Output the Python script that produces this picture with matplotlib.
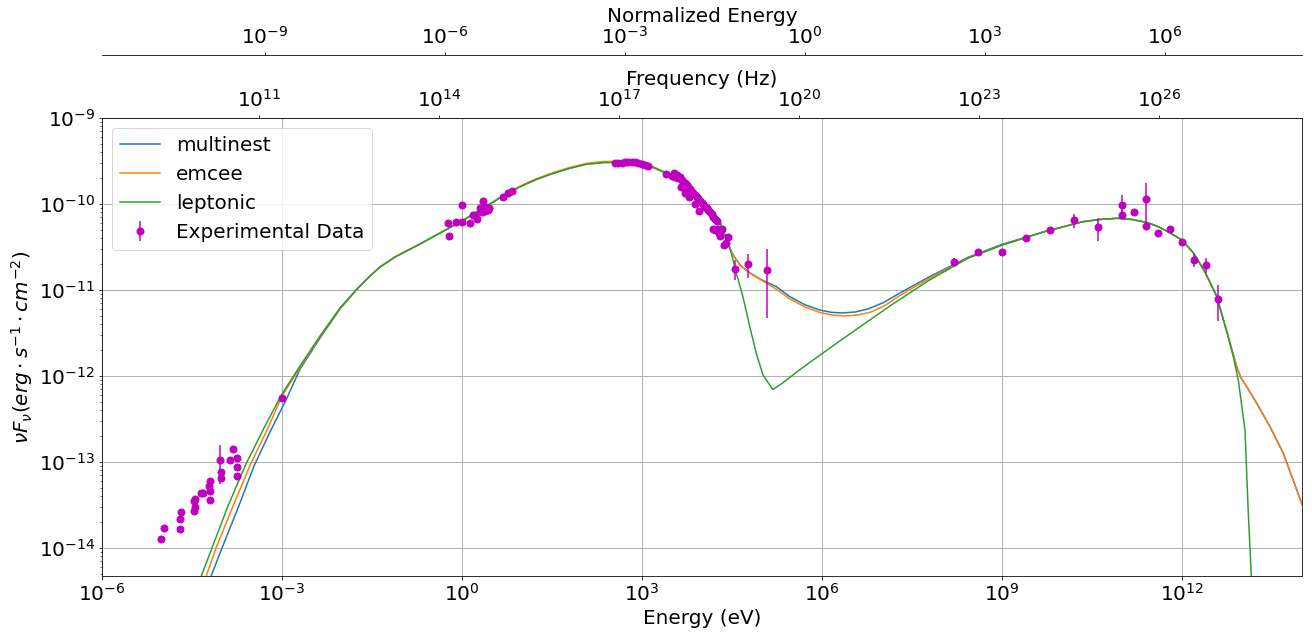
import numpy as np
import matplotlib
matplotlib.use("Agg")
import matplotlib.pyplot as plt

# ---------------- data (log10 values) ----------------
# Leptonic model (green)
lep_logE = [-4.383, -4.167, -3.90, -3.60, -3.30, -3.0, -2.70, -2.367, -2.033, -1.75,
            -1.533, -1.367, -1.117, -0.70, 0.0, 0.683, 0.967, 1.245, 1.522, 1.80, 2.078,
            2.355, 2.633, 2.912, 3.188, 3.467, 3.745, 4.022, 4.30, 4.40, 4.483,
            4.567, 4.683, 4.817, 4.917, 5.017, 5.178, 5.338, 5.625, 6.008, 6.517,
            7.157, 7.793, 8.433, 9.005, 9.707, 10.345, 10.633, 10.917, 11.167, 11.430,
            11.633, 11.812, 12.0, 12.195, 12.383, 12.577, 12.767, 12.855, 12.938, 13.05,
            13.105, 13.175]
lep_logF = [-14.395, -14.0, -13.512, -13.023, -12.605, -12.209, -11.884, -11.535, -11.209, -10.988,
            -10.837, -10.733, -10.616, -10.465, -10.198, -9.907, -9.799, -9.713, -9.643, -9.585, -9.538,
            -9.520, -9.515, -9.531, -9.578, -9.663, -9.779, -9.953, -10.215, -10.395, -10.558,
            -10.791, -11.081, -11.488, -11.767, -11.988, -12.157, -12.085, -11.930, -11.736, -11.485,
            -11.174, -10.884, -10.631, -10.477, -10.322, -10.206, -10.180, -10.166, -10.180, -10.217,
            -10.273, -10.341, -10.419, -10.573, -10.791, -11.07, -11.535, -11.776, -12.047, -12.628,
            -13.597, -14.605]

# Multinest model (blue)
mn_logE = [-4.233, -4.0, -3.733, -3.467, -3.2, -2.933, -2.70, -2.367, -2.033, -1.75,
           -1.533, -1.367, -1.117, -0.70, 0.0, 0.683, 0.967, 1.245, 1.522, 1.80, 2.078,
           2.355, 2.633, 2.912, 3.188, 3.467, 3.745, 4.022, 4.30, 4.40, 4.50,
           4.633, 4.80, 5.0, 5.242, 5.467, 5.717, 5.967, 6.15, 6.333, 6.55, 6.767, 7.033,
           7.283, 7.793, 8.433, 9.005, 9.707, 10.345, 10.633, 10.917, 11.167, 11.430,
           11.633, 11.812, 12.0, 12.195, 12.383, 12.577, 12.767, 12.912, 12.983, 13.078,
           13.245, 13.467, 13.688, 13.995, 14.133]
mn_logF = [-14.419, -14.0, -13.535, -13.047, -12.651, -12.279, -11.92, -11.56, -11.22, -10.99,
           -10.837, -10.733, -10.616, -10.465, -10.198, -9.907, -9.799, -9.713, -9.643, -9.583, -9.534,
           -9.515, -9.510, -9.524, -9.570, -9.656, -9.775, -9.950, -10.21, -10.39, -10.57,
           -10.709, -10.802, -10.884, -10.962, -11.079, -11.172, -11.234, -11.259, -11.267, -11.256, -11.221, -11.144,
           -11.041, -10.845, -10.620, -10.468, -10.322, -10.206, -10.180, -10.166, -10.180, -10.217,
           -10.273, -10.341, -10.419, -10.573, -10.791, -11.07, -11.535, -11.892, -12.023, -12.124,
           -12.317, -12.590, -12.899, -13.480, -13.709]

# emcee model (orange)
em_logE = [-4.30, -4.10, -3.82, -3.53, -3.25, -3.0, -2.70, -2.367, -2.033, -1.75,
           -1.533, -1.367, -1.117, -0.70, 0.0, 0.683, 0.967, 1.245, 1.522, 1.80, 2.078,
           2.355, 2.633, 2.912, 3.188, 3.467, 3.745, 4.022, 4.30, 4.40, 4.50,
           4.633, 4.80, 5.0, 5.242, 5.467, 5.717, 5.967, 6.167, 6.383, 6.60, 6.817, 7.05,
           7.283, 7.793, 8.433, 9.005, 9.707, 10.345, 10.633, 10.917, 11.167, 11.430,
           11.633, 11.812, 12.0, 12.195, 12.383, 12.577, 12.767, 12.912, 12.983, 13.078,
           13.245, 13.467, 13.688, 13.995, 14.133]
em_logF = [-14.40, -14.0, -13.52, -13.035, -12.63, -12.233, -11.90, -11.545, -11.213, -10.99,
           -10.837, -10.733, -10.616, -10.465, -10.198, -9.903, -9.793, -9.705, -9.634, -9.574, -9.527,
           -9.506, -9.503, -9.518, -9.570, -9.658, -9.777, -9.952, -10.212, -10.392, -10.575,
           -10.712, -10.805, -10.89, -10.992, -11.105, -11.198, -11.262, -11.291, -11.302, -11.291, -11.256, -11.180,
           -11.070, -10.864, -10.628, -10.477, -10.322, -10.206, -10.180, -10.166, -10.180, -10.217,
           -10.273, -10.341, -10.419, -10.573, -10.791, -11.07, -11.535, -11.892, -12.023, -12.124,
           -12.317, -12.590, -12.899, -13.480, -13.709]

# Experimental data
radio_logE = [-5.01, -4.96, -4.70, -4.70, -4.69, -4.467, -4.455, -4.467, -4.445, -4.35,
              -4.322, -4.20, -4.20, -4.212, -4.20, -4.022, -4.022, -4.028, -3.872, -3.812,
              -3.75, -3.75, -3.75, -3.0]
radio_logF = [-13.895, -13.767, -13.779, -13.659, -13.581, -13.566, -13.527, -13.457, -13.427, -13.357,
              -13.364, -13.438, -13.334, -13.276, -13.217, -13.186, -13.113, -12.973, -12.980, -12.849,
              -12.957, -13.058, -13.163, -12.256]
radio_err = [0, 0, 0, 0, 0, 0, 0, 0, 0, 0,
             0, 0, 0, 0, 0, 0, 0, 0.051, 0, 0,
             0, 0, 0, 0]  # in 1e-12

opt_logE = [-0.228, -0.217, -0.108, 0.0, 0.0, 0.138, 0.188, 0.233, 0.258, 0.30,
            0.333, 0.355, 0.375, 0.40, 0.438, 0.45, 0.688, 0.762, 0.828]
opt_logF = [-10.217, -10.374, -10.213, -10.212, -10.017, -10.217, -10.128, -10.124, -10.177, -10.041,
            -10.093, -9.962, -10.081, -10.035, -10.073, -10.047, -9.922, -9.872, -9.847]

xray_logE = [2.55, 2.605, 2.662, 2.717, 2.772, 2.828, 2.883, 2.938, 2.995, 3.05, 3.105,
             3.40, 3.495, 3.533, 3.55, 3.578, 3.605, 3.633, 3.662, 3.688, 3.717,
             3.745, 3.772, 3.80, 3.828, 3.855, 3.883, 3.912, 3.938, 3.967, 3.995,
             4.022, 4.05, 4.078, 4.105, 4.133, 4.162, 4.188, 4.217, 4.245,
             3.645, 3.717, 3.788, 3.883, 3.945,
             4.178, 4.217, 4.272, 4.328, 4.283, 4.30, 4.428, 4.395, 4.367,
             4.553, 4.763, 5.083]
xray_logF = [-9.527, -9.527, -9.520, -9.515, -9.512, -9.512, -9.515, -9.527, -9.538, -9.547, -9.555,
             -9.655, -9.674, -9.636, -9.683, -9.663, -9.701, -9.683, -9.721, -9.741, -9.759,
             -9.779, -9.799, -9.829, -9.857, -9.876, -9.895, -9.915, -9.945, -9.962, -9.985,
             -10.003, -10.031, -10.050, -10.070, -10.090, -10.120, -10.148, -10.178, -10.194,
             -9.799, -9.869, -9.922, -10.003, -10.078,
             -10.291, -10.302, -10.294, -10.294, -10.341, -10.372, -10.387, -10.453, -10.477,
             -10.756, -10.701, -10.764]
xray_err = [0] * 45 + [2, 2, 2, 2, 2, 2, 3, 3, 2, 4.6, 6.2, 12.5]  # in 1e-12

gamma_logE = [8.208, 8.603, 9.005, 9.395, 9.803, 10.205, 10.6, 10.995, 10.995, 11.193,
              11.397, 11.397, 11.6, 11.8, 12.003, 12.2, 12.4, 12.597]
gamma_logF = [-10.671, -10.558, -10.558, -10.392, -10.306, -10.186, -10.271, -10.012, -10.124, -10.09,
              -9.942, -10.256, -10.334, -10.287, -10.438, -10.651, -10.709, -11.105]
gamma_err = [2, 2, 0, 2, 3, 12, 16, 31, 9, 0, 62, 5, 0, 0, 3, 4, 3.7, 3.5]  # in 1e-12

# axis ticks
energy_ticks = [1e-6, 1e-3, 1e0, 1e3, 1e6, 1e9, 1e12]
freq_ticks = [1e11, 1e14, 1e17, 1e20, 1e23, 1e26]
norm_ticks = [1e-9, 1e-6, 1e-3, 1e0, 1e3, 1e6]

H_EV = 4.135667696e-15   # Planck constant, eV s
ME_EV = 510998.95         # electron rest energy, eV

# ---------------- plotting ----------------
DPI = 72
W, H = 1312, 637
plt.rcParams['font.size'] = 20
fig = plt.figure(figsize=(W / DPI, H / DPI), dpi=DPI)
ax = fig.add_axes([102 / W, 61 / H, 1200 / W, 458 / H])

ax.plot(10 ** np.array(mn_logE), 10 ** np.array(mn_logF), color='C0', lw=1.5, label='multinest')
ax.plot(10 ** np.array(em_logE), 10 ** np.array(em_logF), color='C1', lw=1.5, label='emcee')
ax.plot(10 ** np.array(lep_logE), 10 ** np.array(lep_logF), color='C2', lw=1.5, label='leptonic')

dE = 10 ** np.concatenate([radio_logE, opt_logE, xray_logE, gamma_logE])
dF = 10 ** np.concatenate([radio_logF, opt_logF, xray_logF, gamma_logF])
dErr = np.concatenate([radio_err, [0] * len(opt_logE), xray_err, gamma_err]) * 1e-12
ax.errorbar(dE, dF, yerr=dErr, fmt='o', color='m', ms=7, elinewidth=1.5,
            label='Experimental Data')

ax.set_xscale('log')
ax.set_yscale('log')
ax.set_xlim(1e-6, 1e14)
ax.set_ylim(10 ** -14.326, 1e-9)
ax.set_xticks(energy_ticks)
ax.grid(True, which='major', color='#b0b0b0', lw=1.0)
ax.set_xlabel('Energy (eV)')
ax.set_ylabel(r'$\nu F_\nu (erg \cdot s^{-1} \cdot cm^{-2})$')

sec_f = ax.secondary_xaxis('top', functions=(lambda e: e / H_EV, lambda f: f * H_EV))
sec_f.set_xticks(freq_ticks)
sec_f.set_xlabel('Frequency (Hz)')

sec_n = ax.secondary_xaxis(1.1376, functions=(lambda e: e / ME_EV, lambda n: n * ME_EV))
sec_n.set_xticks(norm_ticks)
sec_n.set_xlabel('Normalized Energy')

ax.legend(loc='upper left')

fig.savefig('out.png', dpi=DPI)
